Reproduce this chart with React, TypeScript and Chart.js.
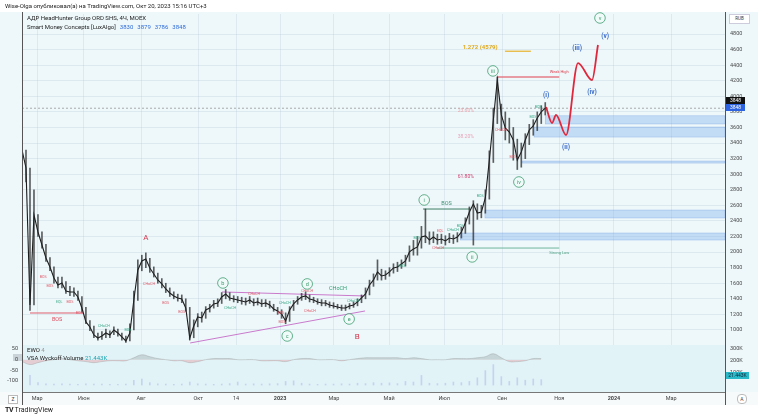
import React, { useEffect, useRef } from "react";
import { Chart, registerables } from "chart.js";
Chart.register(...registerables);

// ---------------- data ----------------
const priceClose = [
  3311, 3080, 1321, 2477, 2258, 2091, 1924, 1809, 1668, 1578,
  1603, 1501, 1488, 1488, 1424, 1282, 1103, 1039, 936, 897,
  923, 961, 936, 1000, 961, 910, 859, 961, 1385, 1770,
  1886, 1912, 1796, 1719, 1642, 1591, 1526, 1475, 1437, 1411,
  1398, 1282, 897, 1051, 1167, 1154, 1257, 1282, 1334, 1347,
  1424, 1462, 1411, 1398, 1385, 1372, 1360, 1385, 1347, 1360,
  1334, 1347, 1321, 1270, 1244, 1205, 1116, 1257, 1334, 1385,
  1424, 1437, 1398, 1385, 1360, 1347, 1347, 1321, 1308, 1295,
  1282, 1282, 1308, 1321, 1360, 1411, 1462, 1578, 1642, 1745,
  1693, 1706, 1745, 1796, 1809, 1847, 1886, 2002, 2040, 2066,
  2194, 2207, 2156, 2194, 2156, 2168, 2143, 2181, 2168, 2194,
  2258, 2374, 2515, 2618, 2502, 2515, 2695, 3183, 3696, 4210,
  3761, 3594, 3542, 3440, 3183, 3286, 3440, 3568, 3619, 3722,
  3799, 3848,
];
const priceHigh = [
  3420, 3310, 3080, 2800, 2480, 2260, 2100, 1930, 1810, 1680,
  1680, 1620, 1560, 1540, 1500, 1430, 1290, 1120, 1050, 960,
  980, 1010, 990, 1040, 1010, 960, 920, 1080, 1500, 1900,
  1960, 1990, 1920, 1810, 1730, 1660, 1600, 1540, 1490, 1460,
  1450, 1400, 1290, 1130, 1210, 1230, 1300, 1330, 1380, 1400,
  1480, 1520, 1480, 1440, 1430, 1420, 1410, 1430, 1400, 1410,
  1390, 1390, 1370, 1330, 1290, 1260, 1220, 1300, 1380, 1430,
  1470, 1490, 1450, 1420, 1400, 1390, 1380, 1360, 1350, 1330,
  1320, 1320, 1340, 1360, 1400, 1450, 1540, 1640, 1720, 1900,
  1780, 1760, 1800, 1850, 1870, 1900, 1960, 2080, 2150, 2200,
  2330, 2553, 2260, 2260, 2230, 2230, 2210, 2240, 2220, 2250,
  2320, 2440, 2580, 2660, 2620, 2600, 2800, 3300, 3850, 4248,
  3900, 3800, 3720, 3600, 3450, 3400, 3520, 3640, 3700, 3800,
  3880, 3920,
];
const priceLow = [
  3200, 2900, 1250, 1321, 2200, 2050, 1880, 1760, 1600, 1540,
  1540, 1470, 1440, 1430, 1380, 1230, 1080, 990, 900, 870,
  880, 900, 900, 940, 920, 870, 840, 860, 1000, 1380,
  1760, 1800, 1740, 1680, 1600, 1540, 1480, 1430, 1400, 1370,
  1350, 1240, 870, 900, 1040, 1100, 1150, 1230, 1280, 1300,
  1340, 1400, 1380, 1360, 1350, 1330, 1320, 1340, 1310, 1320,
  1300, 1300, 1280, 1240, 1200, 1150, 1080, 1110, 1250, 1330,
  1380, 1390, 1360, 1350, 1330, 1310, 1310, 1290, 1280, 1270,
  1250, 1250, 1270, 1290, 1310, 1350, 1400, 1450, 1560, 1640,
  1640, 1650, 1690, 1730, 1750, 1790, 1820, 1880, 1960, 1960,
  2050, 2120, 2100, 2120, 2100, 2110, 2090, 2120, 2110, 2130,
  2180, 2240, 2360, 2090, 2420, 2440, 2500, 2680, 3150, 3650,
  3560, 3440, 3400, 3180, 3060, 3090, 3200, 3380, 3500, 3560,
  3650, 3760,
];
const forecastIdx = [131.2, 132.7, 133.7, 136.2, 139.2, 142.7, 144.2];
const forecastPrice = [3863, 3657, 3760, 3503, 4427, 4209, 4659];

const lastPrice = 3848;
const legendValues = ["3830", "3879", "3786", "3848"];
const priceTicks = [1000, 1200, 1400, 1600, 1800, 2000, 2200, 2400, 2600, 2800, 3000, 3200, 3400, 3600, 3800, 4000, 4200, 4400, 4600, 4800];
const priceMin = 807;
const priceMax = 5057;
const idxMax = 176;

const timeTickIdx = [3.8, 15.5, 29.8, 44.1, 53.6, 64.6, 78.1, 91.9, 105.7, 120.2, 134.5, 148.2, 162.5];
const timeTickLabels = ["Мар", "Июн", "Авг", "Окт", "14", "2023", "Мар", "Май", "Июл", "Сен", "Ноя", "2024", "Мар"];

const zoneStart = [131, 128.2, 125.2, 115.9, 109.7];
const zoneTop = [3750, 3606, 3169, 2540, 2245];
const zoneBottom = [3645, 3477, 3143, 2438, 2155];

const levelNames = ["weakHigh", "fib1272", "strongLow", "bosWave1", "bosStart"];
const levelFrom = [118.9, 120.9, 103.9, 100.4, 2];
const levelTo = [134.5, 127.4, 134.5, 112.2, 15.3];
const levelPrice = [4248, 4579, 2052, 2553, 1218];

const triFromIdx = [50.1, 42.1];
const triToIdx = [85.4, 85.9];
const triFromPrice = [1488, 833];
const triToPrice = [1437, 1244];

const circleText = ["i", "ii", "iii", "iv", "v", "b", "c", "d", "e"];
const circleIdx = [100.7, 112.7, 117.9, 124.4, 144.7, 50.3, 66.4, 71.4, 81.9];
const circlePrice = [2669, 1938, 4326, 2900, 5006, 1603, 923, 1591, 1141];

const waveText = ["(i)", "(ii)", "(iii)", "(iv)", "(v)"];
const waveIdx = [131.2, 136.2, 139.0, 142.7, 146.0];
const wavePrice = [4017, 3350, 4621, 4056, 4775];

const abcText = ["A", "B"];
const abcIdx = [31, 83.9];
const abcPrice = [2181, 910];

const fibText = ["23.60%", "38.20%", "61.80%"];
const fibIdx = [111.1, 111.1, 111.1];
const fibPrice = [3812, 3478, 2965];

const noteText = ["Weak High", "Strong Low", "1.272 (4579)", "BOS", "BOS", "CHoCH"];
const noteIdx = [134.5, 134.5, 114.7, 106.3, 8.8, 79.1];
const notePrice = [4313, 1989, 4630, 2618, 1128, 1526];

const smallText = ["BOS", "BOS", "EQL", "BOS", "BOS", "CHoCH", "BOS", "CHoCH", "BOS", "BOS", "CHoCH", "CHoCH", "BOS", "BOS", "CHoCH", "CHoCH", "CHoCH", "CHoCH", "BOS", "BOS", "EQL", "CHoCH", "BOS", "BOS", "CHoCH", "BOS", "BOS", "BOS", "CHoCH"];
const smallKind = ["bear", "bear", "bull", "bear", "bear", "bull", "bull", "bear", "bear", "bear", "bull", "bear", "bear", "bear", "bull", "bear", "bear", "bull", "bull", "bull", "bear", "bull", "bull", "bull", "bear", "bull", "bull", "bear", "bear"];
const smallIdx = [5.3, 7.0, 9.3, 12.0, 14.3, 20.5, 26.5, 31.8, 36.0, 40.0, 52.1, 58.1, 64.8, 65.1, 65.8, 71.4, 72.1, 82.9, 95.1, 98.9, 104.7, 107.9, 109.7, 114.7, 104.2, 129.2, 127.9, 122.9, 119.9];
const smallPrice = [1680, 1565, 1360, 1360, 1218, 1051, 1000, 1591, 1347, 1231, 1282, 1462, 1218, 1103, 1347, 1501, 1244, 1372, 1822, 2181, 2271, 2284, 2335, 2720, 2053, 3863, 3735, 3221, 3568];

const ewoValues = [-9, -23, -14, -5, 0, 5, 0, -5, -9, -14, -9, -5, -5, -5, 9, 23, 14, 5, 0, -5, -5, -14, -9, 0, 5, 5, 5, 0, 0, 0, -5, -5, -5, -9, 0, 5, 5, 0, 0, 0, -5, 0, 5, 9, 9, 9, 9, 9, 5, 9, 5, 0, 0, 0, 5, 5, 5, 9, 14, 28, 9, -9, -9, -5, 5, 5];
const volumeK = [30, 80, 20, 10, 8, 10, 8, 6, 10, 8, 8, 6, 5, 8, 40, 50, 20, 10, 8, 6, 8, 25, 10, 8, 6, 8, 12, 25, 8, 10, 8, 10, 12, 30, 35, 15, 8, 6, 8, 8, 10, 8, 15, 12, 20, 15, 18, 12, 30, 25, 80, 15, 12, 15, 25, 20, 30, 60, 120, 170, 70, 30, 60, 40, 50, 45];
const subStep = 2;
const ewoTicks = [50, 0, -50, -100];
const volTicks = [100, 200, 300];
const volLast = "21.443K";

// ---------------- styles ----------------
const FONT = "Roboto, 'Liberation Sans', Arial, sans-serif";
const levelStyle: Record<string, { color: string; width: number }> = {
  weakHigh: { color: "#e0404f", width: 1 },
  fib1272: { color: "#e8b22a", width: 1.2 },
  strongLow: { color: "#6fb59a", width: 1 },
  bosWave1: { color: "#3f7f66", width: 1 },
  bosStart: { color: "#e06070", width: 1 },
};
const noteStyle = [
  { color: "#e0404f", size: 4, weight: "normal" },
  { color: "#4f9f80", size: 4, weight: "normal" },
  { color: "#e0a81c", size: 6, weight: "bold" },
  { color: "#3f8f70", size: 5.5, weight: "normal" },
  { color: "#e05060", size: 5.5, weight: "normal" },
  { color: "#2f9f70", size: 5.5, weight: "normal" },
];
const fibColors = ["#eaa5ac", "#e9a4b8", "#d23c6c"];

function drawText(ctx: CanvasRenderingContext2D, s: string, x: number, y: number, color: string, size: number, weight = "normal", align: CanvasTextAlign = "center") {
  ctx.font = `${weight} ${size}px ${FONT}`;
  ctx.fillStyle = color;
  ctx.textAlign = align;
  ctx.textBaseline = "middle";
  ctx.fillText(s, x, y);
}

const annotations = {
  id: "annotations",
  beforeDatasetsDraw(chart: any) {
    const { ctx, chartArea: ca, scales } = chart;
    const x = scales.x, y = scales.y;
    ctx.save();
    zoneStart.forEach((s, k) => {
      const x0 = x.getPixelForValue(s);
      const y0 = y.getPixelForValue(zoneTop[k]);
      const y1 = y.getPixelForValue(zoneBottom[k]);
      ctx.fillStyle = "rgba(110,165,235,0.33)";
      ctx.fillRect(x0, y0, ca.right - x0, y1 - y0);
      ctx.strokeStyle = "rgba(90,140,220,0.45)";
      ctx.lineWidth = 0.6;
      ctx.strokeRect(x0, y0, ca.right - x0, y1 - y0);
    });
    const py = y.getPixelForValue(lastPrice);
    ctx.setLineDash([2, 2]);
    ctx.strokeStyle = "#8a8a8a";
    ctx.lineWidth = 0.7;
    ctx.beginPath();
    ctx.moveTo(ca.left, py);
    ctx.lineTo(ca.right, py);
    ctx.stroke();
    ctx.setLineDash([]);
    ctx.strokeStyle = "#c97acb";
    ctx.lineWidth = 1;
    triFromIdx.forEach((f, k) => {
      ctx.beginPath();
      ctx.moveTo(x.getPixelForValue(f), y.getPixelForValue(triFromPrice[k]));
      ctx.lineTo(x.getPixelForValue(triToIdx[k]), y.getPixelForValue(triToPrice[k]));
      ctx.stroke();
    });
    levelNames.forEach((n, k) => {
      const st = levelStyle[n];
      const ly = y.getPixelForValue(levelPrice[k]);
      ctx.strokeStyle = st.color;
      ctx.lineWidth = st.width;
      ctx.beginPath();
      ctx.moveTo(x.getPixelForValue(levelFrom[k]), ly);
      ctx.lineTo(x.getPixelForValue(levelTo[k]), ly);
      ctx.stroke();
    });
    ctx.restore();
  },
  afterDatasetsDraw(chart: any) {
    const { ctx, scales } = chart;
    const x = scales.x, y = scales.y;
    ctx.save();
    smallText.forEach((t, k) => {
      drawText(ctx, t, x.getPixelForValue(smallIdx[k]), y.getPixelForValue(smallPrice[k]), smallKind[k] === "bull" ? "#3aa886" : "#e05a68", 3.6);
    });
    fibText.forEach((t, k) => {
      drawText(ctx, t, x.getPixelForValue(fibIdx[k]), y.getPixelForValue(fibPrice[k]), fibColors[k], 5);
    });
    noteText.forEach((t, k) => {
      const st = noteStyle[k];
      drawText(ctx, t, x.getPixelForValue(noteIdx[k]), y.getPixelForValue(notePrice[k]), st.color, st.size, st.weight);
    });
    circleText.forEach((t, k) => {
      const cx = x.getPixelForValue(circleIdx[k]);
      const cy = y.getPixelForValue(circlePrice[k]);
      ctx.beginPath();
      ctx.arc(cx, cy, 5.3, 0, Math.PI * 2);
      ctx.fillStyle = "rgba(240,250,248,0.9)";
      ctx.fill();
      ctx.strokeStyle = "#3d9d6e";
      ctx.lineWidth = 0.8;
      ctx.stroke();
      drawText(ctx, t, cx, cy + 0.3, "#3d9d6e", 5.5);
    });
    waveText.forEach((t, k) => {
      drawText(ctx, t, x.getPixelForValue(waveIdx[k]), y.getPixelForValue(wavePrice[k]), "#3b6cc9", 6.5, "bold");
    });
    abcText.forEach((t, k) => {
      drawText(ctx, t, x.getPixelForValue(abcIdx[k]), y.getPixelForValue(abcPrice[k]), "#d2344a", 8);
    });
    ctx.restore();
  },
};

const box = (s: React.CSSProperties): React.CSSProperties => ({ position: "absolute", ...s });
const noPad = (width: number) => (s: any) => { s.width = width; s.paddingTop = 0; s.paddingBottom = 0; };

export default function App() {
  const mainRef = useRef<HTMLCanvasElement>(null);
  const subRef = useRef<HTMLCanvasElement>(null);

  useEffect(() => {
    const grid = "rgba(185,205,218,0.35)";
    const main = new Chart(mainRef.current!, {
      type: "line",
      data: {
        datasets: [
          {
            type: "bar",
            label: "range",
            data: priceClose.map((_p, i) => ({ x: i, y: [priceLow[i], priceHigh[i]] })),
            backgroundColor: "rgba(35,35,35,0.72)",
            barThickness: 1,
          } as any,
          {
            label: "АДР HeadHunter Group",
            data: priceClose.map((p, i) => ({ x: i, y: p })),
            borderColor: "#1c1c1c",
            borderWidth: 1.1,
            pointRadius: 0,
            tension: 0,
          },
          {
            label: "forecast",
            data: forecastIdx.map((v, k) => ({ x: v, y: forecastPrice[k] })),
            borderColor: "#e0283c",
            borderWidth: 1.8,
            pointRadius: 0,
            cubicInterpolationMode: "monotone",
          },
        ],
      },
      options: {
        animation: false,
        responsive: false,
        maintainAspectRatio: false,
        layout: { padding: { left: 22, top: 14, bottom: 47, right: 0 } },
        plugins: { legend: { display: false }, tooltip: { enabled: false } },
        scales: {
          x: {
            type: "linear",
            offset: false,
            min: 0,
            max: idxMax,
            ticks: { display: false },
            grid: { color: grid, drawTicks: false, offset: false },
            border: { display: false },
            afterBuildTicks: (s: any) => { s.ticks = timeTickIdx.map((v) => ({ value: v })); },
            afterFit: (s: any) => { s.height = 0; },
          },
          y: {
            position: "right",
            min: priceMin,
            max: priceMax,
            afterBuildTicks: (s: any) => { s.ticks = priceTicks.map((v) => ({ value: v })); },
            afterFit: noPad(33),
            ticks: { font: { size: 5.5, family: FONT }, color: "#4a4a4a", padding: 5, callback: (v: any) => String(v) },
            grid: { color: grid, drawTicks: false },
            border: { display: false },
          },
        },
      } as any,
      plugins: [annotations],
    });

    const sub = new Chart(subRef.current!, {
      type: "bar",
      data: {
        datasets: [
          {
            type: "line",
            label: "EWO",
            data: ewoValues.map((v, k) => ({ x: k * subStep, y: v })),
            yAxisID: "ye",
            borderColor: "rgba(130,130,130,0.5)",
            borderWidth: 0.6,
            pointRadius: 0,
            tension: 0.4,
            fill: { target: { value: 0 }, above: "rgba(125,135,135,0.28)", below: "rgba(235,110,120,0.28)" },
          } as any,
          {
            type: "bar",
            label: "VSA Wyckoff Volume",
            data: volumeK.map((v, k) => ({ x: k * subStep, y: v })),
            yAxisID: "yv",
            backgroundColor: "rgba(150,160,225,0.38)",
            barThickness: 1,
          },
        ],
      },
      options: {
        animation: false,
        responsive: false,
        maintainAspectRatio: false,
        layout: { padding: 0 },
        plugins: { legend: { display: false }, tooltip: { enabled: false } },
        scales: {
          x: {
            type: "linear",
            offset: false,
            min: 0,
            max: idxMax,
            afterBuildTicks: (s: any) => { s.ticks = timeTickIdx.map((v) => ({ value: v })); },
            afterFit: (s: any) => { s.height = 13; s.paddingLeft = 0; s.paddingRight = 0; },
            ticks: {
              autoSkip: false,
              maxRotation: 0,
              padding: 3,
              color: "#444",
              callback: (_v: any, i: number) => timeTickLabels[i],
              font: (c: any) => ({ size: 5.5, family: FONT, weight: /^\d{4}$/.test(timeTickLabels[c.index] || "") ? "bold" : "normal" }),
            },
            grid: { display: false, drawTicks: false, offset: false },
            border: { color: "#777", width: 1 },
          },
          ye: {
            position: "left",
            min: -152,
            max: 69,
            afterBuildTicks: (s: any) => { s.ticks = ewoTicks.map((v) => ({ value: v })); },
            afterFit: noPad(22),
            ticks: { font: { size: 5.5, family: FONT }, color: "#444", padding: 4 },
            grid: { display: false, drawTicks: false },
            border: { display: false },
          },
          yv: {
            position: "right",
            min: -58,
            max: 333,
            afterBuildTicks: (s: any) => { s.ticks = volTicks.map((v) => ({ value: v })); },
            afterFit: noPad(33),
            ticks: { font: { size: 5.5, family: FONT }, color: "#444", padding: 5, callback: (v: any) => `${v}K` },
            grid: { display: false, drawTicks: false },
            border: { display: false },
          },
        },
      } as any,
    });
    return () => { main.destroy(); sub.destroy(); };
  }, []);

  const t = (size: number, color = "#222"): React.CSSProperties => ({ fontFamily: FONT, fontSize: size, color, whiteSpace: "nowrap", lineHeight: 1 });

  return (
    <div style={{ position: "absolute", left: 0, top: 0, width: 758, height: 420, background: "#fff", overflow: "hidden" }}>
      <div style={box({ left: 0, top: 12, width: 758, height: 393, background: "#eef8fb" })} />
      <div style={box({ left: 23, top: 345, width: 702, height: 47, background: "#e2f3f7" })} />
      <div style={box({ left: 0, top: 392, width: 758, height: 13, background: "#f6fafb" })} />
      <div style={box({ left: 13, top: 354, width: 9, height: 7, background: "#c9d3d8" })} />
      <canvas ref={mainRef} width={758} height={392} style={box({ left: 0, top: 0, width: 758, height: 392 })} />
      <canvas ref={subRef} width={758} height={60} style={box({ left: 0, top: 345, width: 758, height: 60 })} />
      <div style={box({ left: 22, top: 12, width: 1, height: 393, background: "#555" })} />
      <div style={box({ left: 725, top: 12, width: 1, height: 393, background: "#555" })} />

      <div style={box({ left: 5, top: 3, ...t(6) })}>Wise-Olga опубликовал(а) на TradingView.com, Окт 20, 2023 15:16 UTC+3</div>
      <div style={box({ left: 27, top: 15, ...t(6) })}>АДР HeadHunter Group ORD SHS, 4Ч, MOEX</div>
      <div style={box({ left: 27, top: 24, ...t(6) })}>
        Smart Money Concepts [LuxAlgo]
        {legendValues.map((v, i) => (
          <span key={i} style={{ color: "#2f6bd8", marginLeft: 4 }}>{v}</span>
        ))}
      </div>
      <div style={box({ left: 27, top: 347, ...t(6) })}>EWO <span style={{ color: "#999" }}>4</span></div>
      <div style={box({ left: 27, top: 355, ...t(6) })}>VSA Wyckoff Volume <span style={{ color: "#1aa3b0" }}>{volLast}</span></div>

      <div style={box({ left: 729, top: 14, width: 19, height: 8, background: "#fff", border: "0.5px solid #ccd", textAlign: "center", ...t(4.5, "#333"), lineHeight: "8px" })}>RUB</div>
      <div style={box({ left: 726, top: 97, width: 19, height: 7, background: "#111", textAlign: "center", ...t(5, "#fff"), lineHeight: "7px" })}>{lastPrice}</div>
      <div style={box({ left: 726, top: 104, width: 19, height: 7, background: "#2d62e0", textAlign: "center", ...t(5, "#fff"), lineHeight: "7px" })}>{lastPrice}</div>
      <div style={box({ left: 726, top: 372, width: 23, height: 7, background: "#29b9c9", textAlign: "center", ...t(5, "#123"), lineHeight: "7px" })}>{volLast}</div>

      <div style={box({ left: 8, top: 395, width: 8, height: 7, border: "0.5px solid #bbb", background: "#fff", textAlign: "center", ...t(5, "#444"), lineHeight: "7px" })}>Z</div>
      <div style={box({ left: 737, top: 394, width: 8, height: 8, borderRadius: 4, border: "0.5px solid #bbb", background: "#fff", textAlign: "center", ...t(5, "#444"), lineHeight: "8px" })}>A</div>
      <div style={box({ left: 5, top: 407, ...t(7, "#222") })}><b style={{ letterSpacing: -0.5 }}>TV</b> TradingView</div>
    </div>
  );
}
